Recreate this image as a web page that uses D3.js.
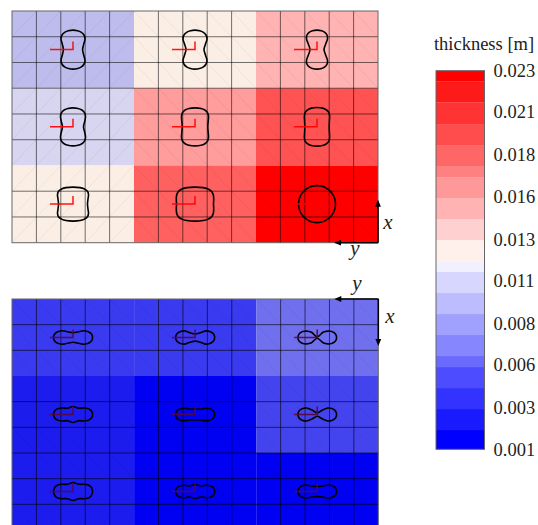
<!DOCTYPE html>
<html>
<head>
<meta charset="utf-8">
<script src="https://cdn.jsdelivr.net/npm/d3@7"></script>
<style>
	html, body { margin: 0; padding: 0; background: #fff; overflow: hidden; }
	text { font-family: "Liberation Serif", serif; fill: #222; }
</style>
</head>
<body>
<div id="chart"></div>
<script>
// Colorbar band limits in metres, low to high, and the colour of each band
const bandEdges = [ 0.00212, 0.00334, 0.00456, 0.00578, 0.00642, 0.00764, 0.00886, 0.01008, 0.01132, 0.0119, 0.01316, 0.01438, 0.0156, 0.01682, 0.01746, 0.01868, 0.0199, 0.02114, 0.02236 ];
const bandColors = [ '#0000ff', '#1a1aff', '#3333ff', '#4d4dff', '#6a6aff', '#8686ff', '#a0a0ff', '#bcbcff', '#d6d6ff', '#f0f0ff', '#fff0ec', '#ffd0d0', '#ffb3b3', '#ff9999', '#ff8080', '#ff6666', '#ff4d4d', '#ff3333', '#ff1a1a', '#ff0000' ];
const cellColors = [ '#0000f2', '#1c1cee', '#3a3af0', '#4444ee', '#7070ee', '#8686ee', '#a0a0ee', '#bdbcec', '#d7d5f0', '#f0f0ff', '#fbeee5', '#ffd0d0', '#ffb3b3', '#ff9c9c', '#ff8080', '#ff6060', '#ff5252', '#ff3333', '#ff1a1a', '#ff0000' ];
const tickValues = [ 0.023, 0.0206, 0.0181, 0.0157, 0.0132, 0.0108, 0.0083, 0.0059, 0.0034, 0.001 ];

// Thickness of each block, row by row
const topThickness = [ 0.0095, 0.0125, 0.015, 0.0107, 0.016, 0.019, 0.0125, 0.018, 0.0228 ];
const bottomThickness = [ 0.004, 0.004, 0.006, 0.0028, 0.0015, 0.005, 0.0028, 0.0015, 0.0015 ];

// Outlines: half length, then half width at stations from the tip to the waist
const stations = [ 1, 0.97, 0.9, 0.75, 0.55, 0.3, 0 ];
const topLengths = [ 19.5, 19.5, 19.5, 19, 19, 19.3, 17, 17, 18.5 ];
const topWidths = [
	[ 0, 4.5, 8, 11, 12, 10.8, 9.6 ],
	[ 0, 4.5, 8, 11, 12, 10.6, 9 ],
	[ 0, 4.5, 7.5, 10, 10.5, 8.8, 7 ],
	[ 0, 5, 8.5, 11.5, 12.5, 11.8, 10.5 ],
	[ 0, 6, 9.5, 12.5, 13.5, 13.2, 12.8 ],
	[ 0, 5.5, 8.8, 11.8, 12.6, 12.4, 12.2 ],
	[ 0, 7, 11, 14.5, 15.5, 15, 14.5 ],
	[ 0, 8, 12.5, 16.5, 18.3, 18.7, 18.5 ],
	[ 0, 4.5, 8.1, 12.2, 15.4, 17.6, 18.5 ],
];
const bottomLengths = [ 19.5, 19.5, 19.3, 19.5, 19.5, 19.3, 19.5, 19.5, 19.3 ];
const bottomWidths = [
	[ 0, 2.6, 4.4, 6, 6.7, 5.8, 4.8 ],
	[ 0, 2.6, 4.4, 6, 6.6, 5, 3.6 ],
	[ 0, 2.6, 4.4, 6, 6.4, 5.2, 0.7 ],
	[ 0, 2.6, 4.4, 6, 6.5, 6.2, 8 ],
	[ 0, 2.6, 4.4, 5.8, 6.3, 5.5, 5.5 ],
	[ 0, 2.6, 4.4, 6.1, 6.5, 4.8, 1.8 ],
	[ 0, 2.8, 5, 6.8, 7.2, 7.2, 9 ],
	[ 0, 2.6, 4.4, 5.8, 6.2, 5.5, 7 ],
	[ 0, 2.6, 4.4, 6, 6.5, 5.5, 5 ],
];

const blockCols = 5;
const blockRows = 3;
const width = 538;
const height = 525;

const svg = d3.select( '#chart' )
	.append( 'svg' )
	.attr( 'width', width )
	.attr( 'height', height )
	.style( 'display', 'block' );

const cellColor = d3.scaleThreshold().domain( bandEdges ).range( cellColors );
const outlineLine = d3.line().curve( d3.curveCatmullRomClosed.alpha( 0.5 ) );

// Closed outline from the stations, mirrored end to end and side to side
function outlinePoints( length, widths, alongX ) {
	const half = stations.map( ( s, i ) => [ s * length, widths[ i ] ] );
	const side = half.concat( half.slice( 0, -1 ).reverse().map( ( p ) => [ -p[ 0 ], p[ 1 ] ] ) );
	const other = side.slice( 1, -1 ).reverse().map( ( p ) => [ p[ 0 ], -p[ 1 ] ] );
	const ring = side.concat( other );
	return alongX ? ring : ring.map( ( p ) => [ p[ 1 ], p[ 0 ] ] );
}

// Draws one 3x3 panel of blocks, each of 5x3 cells
function drawPanel( opts ) {
	const x = d3.scaleLinear().domain( [ 0, 15 ] ).range( opts.xRange );
	const y = d3.scaleLinear().domain( [ 0, 9 ] ).range( opts.yRange );
	const g = svg.append( 'g' );

	// Block fills
	opts.thickness.forEach( ( t, i ) => {
		const col = i % 3;
		const row = Math.floor( i / 3 );
		g.append( 'rect' )
			.attr( 'x', x( col * blockCols ) )
			.attr( 'y', y( row * blockRows ) )
			.attr( 'width', x( blockCols ) - x( 0 ) )
			.attr( 'height', y( blockRows ) - y( 0 ) )
			.attr( 'fill', cellColor( t ) );
	} );

	// Faint mesh diagonals
	d3.range( 15 ).forEach( ( c ) => {
		d3.range( 9 ).forEach( ( r ) => {
			const rising = opts.rising( c );
			g.append( 'line' )
				.attr( 'x1', x( c ) )
				.attr( 'x2', x( c + 1 ) )
				.attr( 'y1', y( rising ? r + 1 : r ) )
				.attr( 'y2', y( rising ? r : r + 1 ) )
				.attr( 'stroke', '#000' )
				.attr( 'stroke-opacity', 0.05 );
		} );
	} );

	// Grid, the block borders along the skipped lines show only as a colour change
	d3.range( 1, 15 ).filter( ( c ) => c % 5 !== 0 ).forEach( ( c ) => {
		g.append( 'line' )
			.attr( 'x1', x( c ) )
			.attr( 'x2', x( c ) )
			.attr( 'y1', y( 0 ) )
			.attr( 'y2', y( 9 ) )
			.attr( 'stroke', '#000' )
			.attr( 'stroke-opacity', opts.gridOpacity );
	} );
	d3.range( 1, 9 ).filter( ( r ) => ! opts.skipRows.includes( r ) ).forEach( ( r ) => {
		g.append( 'line' )
			.attr( 'x1', x( 0 ) )
			.attr( 'x2', x( 15 ) )
			.attr( 'y1', y( r ) )
			.attr( 'y2', y( r ) )
			.attr( 'stroke', '#000' )
			.attr( 'stroke-opacity', opts.gridOpacity );
	} );

	g.append( 'rect' )
		.attr( 'x', x( 0 ) )
		.attr( 'y', y( 0 ) )
		.attr( 'width', x( 15 ) - x( 0 ) )
		.attr( 'height', y( 9 ) - y( 0 ) )
		.attr( 'fill', 'none' )
		.attr( 'stroke', '#666' );

	// Outlines and the little local axes
	opts.widths.forEach( ( widths, i ) => {
		const col = i % 3;
		const row = Math.floor( i / 3 );
		const node = g.append( 'g' )
			.attr( 'transform', `translate(${ x( col * 5 + 2.5 ) },${ y( row * 3 + 1.5 ) })` );

		node.append( 'path' )
			.attr( 'd', outlineLine( outlinePoints( opts.lengths[ i ], widths, opts.alongX ) ) )
			.attr( 'fill', 'none' )
			.attr( 'stroke', '#000' )
			.attr( 'stroke-width', 1.6 );

		node.append( 'path' )
			.attr( 'd', 'M-23,0H0V-8' )
			.attr( 'fill', 'none' )
			.attr( 'stroke', opts.axisColor )
			.attr( 'stroke-opacity', 0.92 )
			.attr( 'stroke-width', 1.5 );
	} );

	// Global axes at the right-hand corner
	const corner = [ x( 15 ), y( opts.cornerRow ) ];
	const dir = opts.cornerRow === 0 ? 1 : -1;
	const head = 'M0,-7L2.9,0L-2.9,0Z';

	g.append( 'path' )
		.attr( 'd', `M${ corner[ 0 ] },${ corner[ 1 ] }V${ corner[ 1 ] + dir * ( opts.xArrow - 6 ) }` )
		.attr( 'stroke', '#000' )
		.attr( 'stroke-width', 1.6 );
	g.append( 'path' )
		.attr( 'd', `M${ corner[ 0 ] },${ corner[ 1 ] }H${ corner[ 0 ] - 38 }` )
		.attr( 'stroke', '#000' )
		.attr( 'stroke-width', 1.6 );
	g.append( 'path' )
		.attr( 'd', head )
		.attr( 'transform', `translate(${ corner[ 0 ] },${ corner[ 1 ] + dir * ( opts.xArrow - 7 ) }) rotate(${ dir > 0 ? 180 : 0 })` );
	g.append( 'path' )
		.attr( 'd', head )
		.attr( 'transform', `translate(${ corner[ 0 ] - 37 },${ corner[ 1 ] }) rotate(-90)` );

	g.append( 'text' )
		.attr( 'x', opts.xLabel[ 0 ] )
		.attr( 'y', opts.xLabel[ 1 ] )
		.attr( 'text-anchor', 'middle' )
		.attr( 'font-style', 'italic' )
		.attr( 'font-size', 21 )
		.text( 'x' );
	g.append( 'text' )
		.attr( 'x', opts.yLabel[ 0 ] )
		.attr( 'y', opts.yLabel[ 1 ] )
		.attr( 'text-anchor', 'middle' )
		.attr( 'font-style', 'italic' )
		.attr( 'font-size', 21 )
		.text( 'y' );
}

drawPanel( {
	xRange: [ 12, 378 ],
	yRange: [ 11, 242.7 ],
	thickness: topThickness,
	lengths: topLengths,
	widths: topWidths,
	alongX: false,
	rising: ( c ) => c < 5,
	gridOpacity: 0.55,
	skipRows: [ 6 ],
	axisColor: '#ff0000',
	cornerRow: 9,
	xArrow: 43,
	xLabel: [ 388, 229 ],
	yLabel: [ 355, 255 ],
} );

drawPanel( {
	xRange: [ 12, 378.3 ],
	yRange: [ 299, 530 ],
	thickness: bottomThickness,
	lengths: bottomLengths,
	widths: bottomWidths,
	alongX: true,
	rising: () => false,
	gridOpacity: 0.6,
	skipRows: [ 3 ],
	axisColor: '#5a0838',
	cornerRow: 0,
	xArrow: 47,
	xLabel: [ 390, 323 ],
	yLabel: [ 357, 290 ],
} );

// Colorbar
const barX = 436;
const barWidth = 48.5;
const barScale = d3.scaleLinear().domain( [ 0.001, 0.023 ] ).range( [ 449.3, 70.7 ] );
const barLimits = [ 0.001, ...bandEdges, 0.023 ];

svg.append( 'g' )
	.selectAll( 'rect' )
	.data( bandColors )
	.join( 'rect' )
	.attr( 'x', barX )
	.attr( 'width', barWidth )
	.attr( 'y', ( d, i ) => barScale( barLimits[ i + 1 ] ) )
	.attr( 'height', ( d, i ) => barScale( barLimits[ i ] ) - barScale( barLimits[ i + 1 ] ) )
	.attr( 'fill', ( d ) => d );

svg.append( 'rect' )
	.attr( 'x', barX )
	.attr( 'y', barScale( 0.023 ) )
	.attr( 'width', barWidth )
	.attr( 'height', barScale( 0.001 ) - barScale( 0.023 ) )
	.attr( 'fill', 'none' )
	.attr( 'stroke', '#666' );

const barAxis = svg.append( 'g' )
	.attr( 'transform', `translate(${ barX + barWidth },0)` )
	.call(
		d3.axisRight( barScale )
			.tickValues( tickValues )
			.tickFormat( d3.format( '.3f' ) )
			.tickSize( 0 )
			.tickPadding( 9 ),
	);
barAxis.select( '.domain' ).remove();
barAxis.selectAll( 'text' )
	.style( 'font-family', '"Liberation Serif", serif' )
	.style( 'font-size', '18.5px' )
	.style( 'fill', '#222' );

svg.append( 'text' )
	.attr( 'x', 484 )
	.attr( 'y', 50 )
	.attr( 'text-anchor', 'middle' )
	.attr( 'font-size', 18.5 )
	.text( 'thickness [m]' );
</script>
</body>
</html>
